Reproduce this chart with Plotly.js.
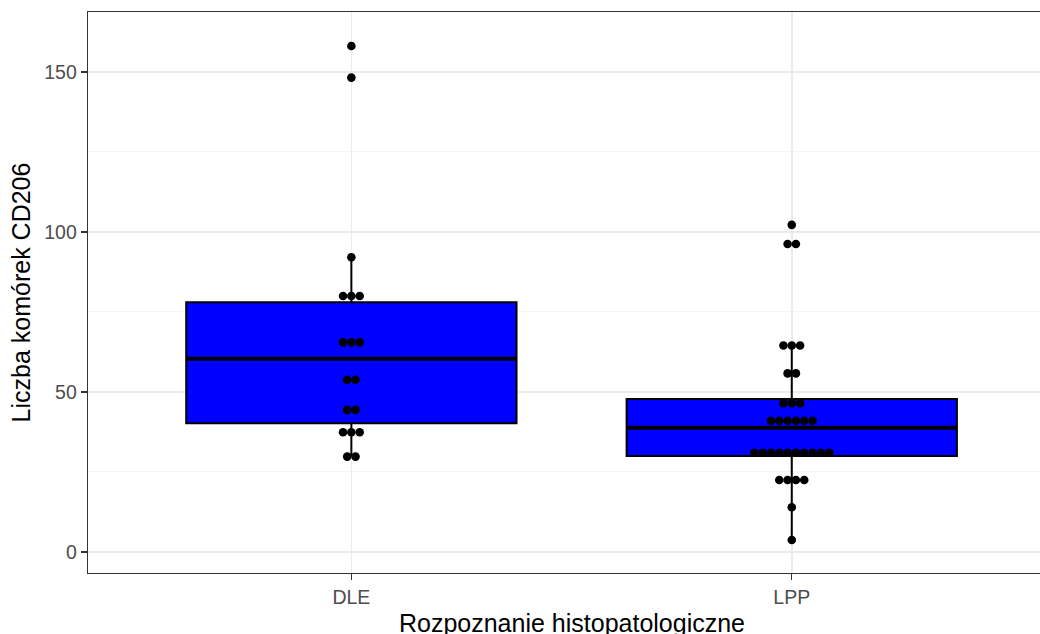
<!DOCTYPE html>
<html>
<head>
<meta charset="utf-8">
<script src="https://cdn.plot.ly/plotly-3.0.1.min.js"></script>
<style>
html,body{margin:0;padding:0;overflow:hidden;background:#fff;}
#chart{width:1060px;height:650px;}
</style>
</head>
<body>
<div id="chart"></div>
<script>
// Categories and positions
const categories = ['DLE', 'LPP'];
const categoryPos = [1, 2];

// Box statistics
const q1 = [40.2, 30.0];
const medians = [60.4, 38.8];
const q3 = [78.0, 47.8];
const lowerWhisker = [29.8, 3.75];
const upperWhisker = [92.1, 64.5];

// Dot values (binned dotplot values)
const dleValues = [29.8, 29.8, 37.4, 37.4, 37.4, 44.4, 44.4, 53.8, 53.8,
  65.5, 65.5, 65.5, 80, 80, 80, 92.1, 148.2, 158.1];
const lppValues = [3.75, 14, 22.5, 22.5, 22.5, 22.5,
  31, 31, 31, 31, 31, 31, 31, 31, 31, 31,
  41, 41, 41, 41, 41, 41, 46.5, 46.5, 46.5, 55.8, 55.8,
  64.5, 64.5, 64.5, 96.2, 96.2, 102.2];

const groups = [dleValues, lppValues];
const boxWidth = 0.75;
const dotStep = 0.0189; // horizontal spacing between stacked dots (x units)

// Build centered stacks
const dotX = [], dotY = [];
groups.forEach((vals, gi) => {
  const counts = {};
  vals.forEach(v => { counts[v] = (counts[v] || 0) + 1; });
  Object.keys(counts).forEach(k => {
    const n = counts[k];
    for (let i = 0; i < n; i++) {
      dotX.push(categoryPos[gi] + (i - (n - 1) / 2) * dotStep);
      dotY.push(parseFloat(k));
    }
  });
});

// Median overlay (thicker line like ggplot)
const medX = [], medY = [];
categoryPos.forEach((p, i) => {
  medX.push(p - boxWidth / 2, p + boxWidth / 2, null);
  medY.push(medians[i], medians[i], null);
});

const traces = [
  {
    type: 'box',
    x: categoryPos,
    q1: q1, median: medians, q3: q3,
    lowerfence: lowerWhisker, upperfence: upperWhisker,
    width: boxWidth,
    whiskerwidth: 0,
    boxpoints: false,
    fillcolor: '#0000ff',
    line: {color: '#000000', width: 2},
    hoverinfo: 'skip',
    showlegend: false
  },
  {
    type: 'scatter', mode: 'lines',
    x: medX, y: medY,
    line: {color: '#000000', width: 4},
    hoverinfo: 'skip', showlegend: false
  },
  {
    type: 'scatter', mode: 'markers',
    x: dotX, y: dotY,
    marker: {color: '#000000', size: 8.6, line: {width: 0}},
    hoverinfo: 'skip', showlegend: false
  }
];

const font = 'Liberation Sans, Arial, sans-serif';
const layout = {
  width: 1060, height: 650,
  margin: {l: 88, r: 4, t: 12, b: 77},
  paper_bgcolor: '#ffffff', plot_bgcolor: '#ffffff',
  font: {family: font},
  showlegend: false,
  xaxis: {
    range: [0.402, 2.6],
    tickvals: categoryPos, ticktext: categories,
    showgrid: true, gridcolor: '#ebebeb', gridwidth: 1.6,
    zeroline: false,
    showline: true, linecolor: '#333333', linewidth: 1.3, mirror: true,
    ticks: 'outside', ticklen: 6, tickwidth: 1.3, tickcolor: '#333333',
    tickfont: {family: font, size: 19.5, color: '#4d4d4d'},
    title: {text: 'Rozpoznanie histopatologiczne', font: {family: font, size: 25, color: '#000000'}, standoff: 7},
    automargin: false
  },
  yaxis: {
    range: [-6.56, 168.7],
    tickvals: [0, 50, 100, 150],
    showgrid: true, gridcolor: '#ebebeb', gridwidth: 1.6,
    minor: {tickvals: [25, 75, 125], showgrid: true, gridcolor: '#f3f3f3', gridwidth: 0.9, ticks: ''},
    zeroline: false,
    showline: true, linecolor: '#333333', linewidth: 1.3, mirror: true,
    ticks: 'outside', ticklen: 6, tickwidth: 1.3, tickcolor: '#333333',
    tickfont: {family: font, size: 19.5, color: '#4d4d4d'},
    title: {text: 'Liczba komórek CD206', font: {family: font, size: 25, color: '#000000'}, standoff: 6},
    automargin: false
  }
};

Plotly.newPlot('chart', traces, layout, {displayModeBar: false, staticPlot: true});
</script>
</body>
</html>
